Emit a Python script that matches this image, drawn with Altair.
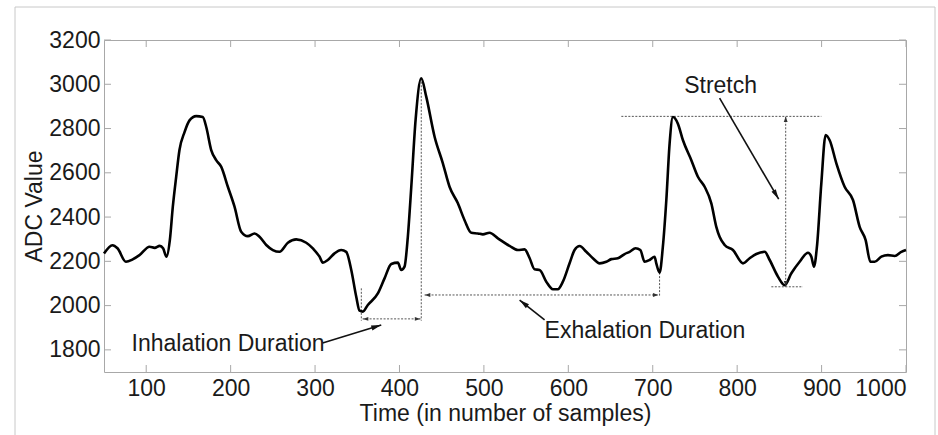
import math
import altair as alt
import pandas as pd

# ---------------- data ----------------
sample = [50, 60, 66, 76, 84, 92, 104, 110, 116, 120, 124, 128, 131.5, 135.5, 139.4,
          145.4, 151.3, 159.2, 167, 171.1, 177, 182.9, 188.9, 196.7, 204.6, 212.5,
          220.4, 228.3, 234.2, 242.2, 250, 257.9, 267.8, 277.7, 289.6, 298, 305.3,
          309.2, 315.1, 323.1, 331, 336.9, 342.9, 348.8, 352.7, 356.6, 362.5, 374.4,
          382.3, 390.3, 398.1, 402.1, 406, 409.9, 414, 419.1, 425.8, 431.7, 441.6,
          451.4, 459.3, 469.2, 477.1, 485.1, 492.9, 498.8, 506.7, 516.6, 530.4, 540.3,
          548.2, 554.1, 560, 566, 573.9, 581.7, 587.6, 593.6, 601.5, 607.4, 613.4,
          621.3, 629.1, 637.1, 645, 650.9, 658.7, 666.7, 672.6, 679.7, 685.3, 690.4,
          696.3, 702.2, 704.2, 708.1, 712, 716.1, 720, 723.9, 729.8, 735.8, 745.7,
          753.5, 761.5, 769.4, 775.3, 779.2, 785.2, 795, 806.9, 814.8, 822.7, 832.6,
          838.5, 848.3, 856.3, 864.2, 874, 883.9, 887.9, 891, 894.5, 899.7, 904.8,
          909.6, 917.5, 927.3, 937.2, 945.1, 952.2, 957.8, 962.9, 970.8, 978.6, 986.6,
          994.5, 1000]
adc = [2235, 2273, 2259, 2198, 2209, 2228, 2266, 2261, 2270, 2259, 2221, 2296, 2446,
       2582, 2703, 2784, 2837, 2856, 2852, 2807, 2703, 2657, 2627, 2537, 2447, 2334,
       2314, 2326, 2311, 2274, 2251, 2243, 2284, 2299, 2284, 2256, 2221, 2194, 2206,
       2236, 2251, 2243, 2161, 2040, 1977, 1973, 2003, 2055, 2123, 2188, 2194, 2161,
       2176, 2311, 2537, 2839, 3027, 2944, 2763, 2643, 2537, 2462, 2386, 2329, 2326,
       2322, 2329, 2304, 2270, 2251, 2254, 2215, 2164, 2161, 2108, 2074, 2074, 2108,
       2191, 2251, 2269, 2243, 2214, 2191, 2198, 2210, 2214, 2233, 2243, 2259, 2251,
       2198, 2206, 2221, 2191, 2149, 2266, 2477, 2733, 2852, 2822, 2747, 2657, 2582,
       2537, 2462, 2356, 2311, 2274, 2251, 2191, 2214, 2233, 2243, 2206, 2131, 2092,
       2146, 2198, 2239, 2221, 2176, 2266, 2552, 2771, 2747, 2643, 2537, 2477, 2356,
       2296, 2198, 2198, 2221, 2228, 2224, 2243, 2251]

x_ticks = [100, 200, 300, 400, 500, 600, 700, 800, 900, 1000]
y_ticks = [1800, 2000, 2200, 2400, 2600, 2800, 3000, 3200]

# dotted guide segments (data units): x, y, x2, y2
dot_x1 = [354.8, 425.8, 356.3, 429.7, 708.1, 662.8, 840.5, 857.5]
dot_y1 = [2078, 3027, 1940, 2048, 2149, 2855, 2085, 2085]
dot_x2 = [354.8, 425.8, 425.0, 707.0, 708.1, 899.7, 878.0, 857.5]
dot_y2 = [1932, 1932, 1940, 2048, 2045, 2855, 2085, 2855]

# dotted arrow tips and the point each arrow comes from
dtip_x = [356.3, 425.0, 429.7, 707.0, 857.5, 857.5]
dtip_y = [1940, 1940, 2048, 2048, 2855, 2085]
dfrom_x = [425.0, 356.3, 707.0, 429.7, 857.5, 857.5]
dfrom_y = [1940, 1940, 2048, 2048, 2085, 2855]

# solid annotation arrows (start -> tip)
arr_x1 = [308.9, 571.9, 779.2]
arr_y1 = [1831, 1935, 2937]
arr_x2 = [378.4, 542.3, 849.2]
arr_y2 = [1912, 2025, 2481]

# annotation texts
left_text = ["Inhalation Duration", "Exhalation Duration"]
left_x = [82.6, 571.9]
left_y = [1827, 1885]
center_text = ["Stretch"]
center_x = [780.4]
center_y = [2991]

# ---------------- layout ----------------
W, H = 802, 332
XMIN, XMAX = 50, 1000
YMIN, YMAX = 1700, 3200
kx = W / (XMAX - XMIN)
ky = H / (YMAX - YMIN)
FONT = "Arial, Liberation Sans, sans-serif"
FS = 23
AXC = "#a8a8a8"
TXT = "#1a1a1a"

xs = alt.Scale(domain=[XMIN, XMAX], nice=False, zero=False)
ys = alt.Scale(domain=[YMIN, YMAX], nice=False, zero=False)


def heads(tx, ty, fx, fy, back):
    rows = []
    for a, b, c, d in zip(tx, ty, fx, fy):
        ux, uy = (a - c) * kx, -(b - d) * ky  # screen direction
        n = math.hypot(ux, uy)
        ux, uy = ux / n, uy / n
        ang = math.degrees(math.atan2(ux, -uy)) % 360
        rows.append({"x": a - ux * back / kx, "y": b + uy * back / ky, "angle": ang})
    return pd.DataFrame(rows)


signal = pd.DataFrame({"sample": sample, "adc": adc})
dots = pd.DataFrame({"x": dot_x1, "y": dot_y1, "x2": dot_x2, "y2": dot_y2})
arrows = pd.DataFrame({"x": arr_x1, "y": arr_y1, "x2": arr_x2, "y2": arr_y2})
dheads = heads(dtip_x, dtip_y, dfrom_x, dfrom_y, 3)
sheads = heads(arr_x2, arr_y2, arr_x1, arr_y1, 5)
ltexts = pd.DataFrame({"t": left_text, "x": left_x, "y": left_y})
ctexts = pd.DataFrame({"t": center_text, "x": center_x, "y": center_y})
xt = pd.DataFrame({"v": x_ticks})
yt = pd.DataFrame({"v": y_ticks})

frame = alt.Chart(pd.DataFrame({"a": [0]})).mark_rect(
    fill=None, stroke="#c8c8c8", strokeWidth=1
).encode(x=alt.value(-89), x2=alt.value(831), y=alt.value(-33), y2=alt.value(420))

line = alt.Chart(signal).mark_line(
    color="black", strokeWidth=2.6, interpolate="monotone"
).encode(
    x=alt.X("sample:Q", scale=xs, axis=alt.Axis(
        values=x_ticks, format="d", title="Time (in number of samples)", ticks=False,
        domain=False, grid=False, labelPadding=5, titlePadding=2)),
    y=alt.Y("adc:Q", scale=ys, axis=alt.Axis(
        values=y_ticks, format="d", title="ADC Value", ticks=False, domain=False,
        grid=False, labelPadding=4, titlePadding=2)),
)

tick_len = 7
xt_bot = alt.Chart(xt).mark_rule(color=AXC, strokeWidth=1).encode(
    x=alt.X("v:Q", scale=xs), y=alt.value(H), y2=alt.value(H - tick_len))
xt_top = alt.Chart(xt).mark_rule(color=AXC, strokeWidth=1).encode(
    x=alt.X("v:Q", scale=xs), y=alt.value(0), y2=alt.value(tick_len))
yt_left = alt.Chart(yt).mark_rule(color=AXC, strokeWidth=1).encode(
    y=alt.Y("v:Q", scale=ys), x=alt.value(0), x2=alt.value(tick_len))
yt_right = alt.Chart(yt).mark_rule(color=AXC, strokeWidth=1).encode(
    y=alt.Y("v:Q", scale=ys), x=alt.value(W), x2=alt.value(W - tick_len))

dotted = alt.Chart(dots).mark_rule(
    color="#555555", strokeWidth=1, strokeDash=[2, 1.5]
).encode(x=alt.X("x:Q", scale=xs), y=alt.Y("y:Q", scale=ys), x2="x2:Q", y2="y2:Q")

solid = alt.Chart(arrows).mark_rule(color="#111111", strokeWidth=1.6).encode(
    x=alt.X("x:Q", scale=xs), y=alt.Y("y:Q", scale=ys), x2="x2:Q", y2="y2:Q")

dhead = alt.Chart(dheads).mark_point(
    shape="M0,-1L0.7,1L-0.7,1Z", filled=True, color="#333333", size=30, opacity=1
).encode(x=alt.X("x:Q", scale=xs), y=alt.Y("y:Q", scale=ys),
         angle=alt.Angle("angle:Q", scale=None))

shead = alt.Chart(sheads).mark_point(
    shape="M0,-1L0.5,1L-0.5,1Z", filled=True, color="#111111", size=100, opacity=1
).encode(x=alt.X("x:Q", scale=xs), y=alt.Y("y:Q", scale=ys),
         angle=alt.Angle("angle:Q", scale=None))

ltxt = alt.Chart(ltexts).mark_text(
    font=FONT, fontSize=FS, color=TXT, baseline="middle", align="left"
).encode(x=alt.X("x:Q", scale=xs), y=alt.Y("y:Q", scale=ys), text="t:N")

ctxt = alt.Chart(ctexts).mark_text(
    font=FONT, fontSize=FS, color=TXT, baseline="middle", align="center"
).encode(x=alt.X("x:Q", scale=xs), y=alt.Y("y:Q", scale=ys), text="t:N")

chart = alt.layer(
    frame, xt_bot, xt_top, yt_left, yt_right, dotted, line, solid, dhead, shead, ltxt, ctxt
).properties(
    width=W, height=H,
    background="white",
    autosize=alt.AutoSizeParams(type="none"),
    padding={"left": 104, "top": 40, "right": 32, "bottom": 63},
).configure_view(
    stroke=AXC, strokeWidth=1
).configure_axis(
    labelFont=FONT, titleFont=FONT, labelFontSize=FS, titleFontSize=FS,
    labelColor=TXT, titleColor=TXT, titleFontWeight="normal",
)

chart.save("out.html", embed_options={"renderer": "svg", "actions": False})
